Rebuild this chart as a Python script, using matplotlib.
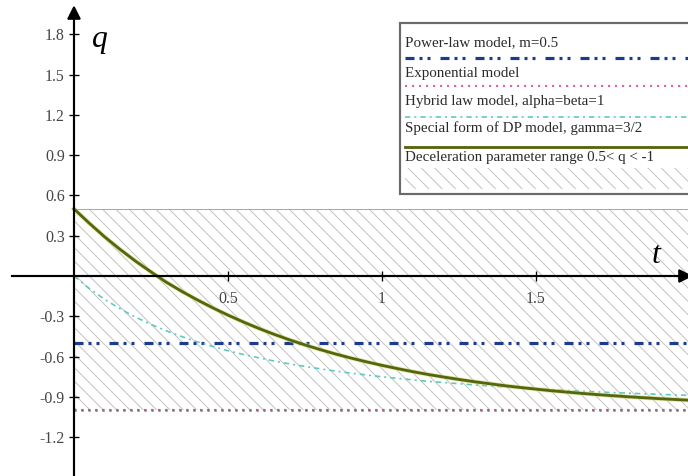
import matplotlib

matplotlib.use("Agg")
import matplotlib.pyplot as plt
from matplotlib.patches import Rectangle

# Deceleration parameter q(t) for several cosmological models.
t_grid = [0.00, 0.05, 0.10, 0.15, 0.20, 0.25, 0.30, 0.35, 0.40, 0.45, 0.50,
          0.55, 0.60, 0.65, 0.70, 0.75, 0.80, 0.85, 0.90, 0.95, 1.00,
          1.05, 1.10, 1.15, 1.20, 1.25, 1.30, 1.35, 1.40, 1.45, 1.50,
          1.55, 1.60, 1.65, 1.70, 1.75, 1.80, 1.85, 1.90, 1.95, 2.00]
q_special_dp = [0.500, 0.393, 0.291, 0.198, 0.111, 0.031, -0.046, -0.114, -0.177, -0.236, -0.291,
                -0.342, -0.390, -0.434, -0.475, -0.513, -0.548, -0.581, -0.611, -0.639, -0.665,
                -0.689, -0.712, -0.733, -0.752, -0.770, -0.787, -0.802, -0.817, -0.830, -0.842,
                -0.854, -0.864, -0.874, -0.883, -0.891, -0.899, -0.906, -0.913, -0.919, -0.925]
q_hybrid = [0.000, -0.093, -0.174, -0.244, -0.306, -0.360, -0.408, -0.451, -0.490, -0.524, -0.556,
            -0.584, -0.609, -0.633, -0.654, -0.673, -0.691, -0.708, -0.723, -0.737, -0.750,
            -0.762, -0.773, -0.784, -0.793, -0.802, -0.811, -0.819, -0.826, -0.833, -0.840,
            -0.846, -0.852, -0.858, -0.863, -0.868, -0.872, -0.877, -0.881, -0.885, -0.889]
q_power_law = -0.5
q_exponential = -1.0
q_range = (-1.0, 0.5)

y_ticks = [-1.2, -0.9, -0.6, -0.3, 0.3, 0.6, 0.9, 1.2, 1.5, 1.8]
x_ticks = [0.5, 1.0, 1.5]
x_tick_labels = ["0.5", "1", "1.5"]

legend_labels = [
    "Power-law model, m=0.5",
    "Exponential model",
    "Hybrid law model, alpha=beta=1",
    "Special form of DP model, gamma=3/2",
    "Deceleration parameter range 0.5< q < -1",
]

DPI = 120
SERIF = ["Liberation Serif", "DejaVu Serif"]

plt.rcParams["lines.scale_dashes"] = False
plt.rcParams["hatch.linewidth"] = 0.6
plt.rcParams["font.family"] = SERIF

BLUE = "#1d3b8c"
PINK = "#d46aa8"
CYAN = "#5fcac2"
OLIVE = "#56660f"
GLOW = "#d4dc78"
HATCH = "#c4c4c4"
HATCH_PATTERN = "\\\\\\"
TICK_TXT = "#444444"

power_style = dict(color=BLUE, lw=1.9, dashes=(5.4, 3.0, 1.8, 3.0, 1.8, 6.0))
exp_style = dict(color=PINK, lw=1.3, dashes=(1.3, 2.9))
hybrid_style = dict(color=CYAN, lw=1.0, dashes=(3.2, 2.4, 1.2, 2.4))
special_style = dict(color=OLIVE, lw=1.7)

fig = plt.figure(figsize=(688 / DPI, 476 / DPI), dpi=DPI)
ax = fig.add_axes([0, 0, 1, 1])
ax.set_xlim(-0.240, 1.994)
ax.set_ylim(-1.489, 2.055)
ax.patch.set_alpha(0)

t0, t1 = t_grid[0], t_grid[-1]

# shaded band of allowed q
ax.fill_between([t0, t1], q_range[0], q_range[1], facecolor="none",
                edgecolor=HATCH, hatch=HATCH_PATTERN, linewidth=0, zorder=1)
ax.plot([t0, t1], [q_range[1]] * 2, color="#a8a8a8", lw=0.6, zorder=2)

# exponential model sits on the lower edge of the band
ax.plot([t0, t1], [q_exponential] * 2, zorder=3, **exp_style)
ax.plot([t0, t1], [q_range[0]] * 2, color="#767676", lw=1.5,
        dashes=(1.3, 2.9), zorder=3)
ax.plot([t0, t1], [q_power_law] * 2, zorder=4, **power_style)
ax.plot(t_grid, q_hybrid, zorder=4, **hybrid_style)
ax.plot(t_grid, q_special_dp, color=GLOW, lw=2.7, alpha=0.6, zorder=4)
ax.plot(t_grid, q_special_dp, zorder=5, **special_style)

# axes through the origin
for side in ("top", "right"):
    ax.spines[side].set_visible(False)
ax.spines["left"].set_position(("data", 0))
ax.spines["bottom"].set_position(("data", 0))
ax.spines["left"].set_bounds(-1.489, 1.95)
ax.spines["bottom"].set_bounds(-0.2, 1.98)
for side in ("left", "bottom"):
    ax.spines[side].set_linewidth(1.3)
    ax.spines[side].set_zorder(6)
ax.plot(0, 1.955, marker="^", color="black", markersize=7, clip_on=False, zorder=7)
ax.plot(1.985, 0, marker=">", color="black", markersize=7, clip_on=False, zorder=7)

ax.set_yticks(y_ticks)
ax.set_yticklabels([f"{v:g}" for v in y_ticks])
ax.set_xticks(x_ticks)
ax.set_xticklabels(x_tick_labels)
ax.tick_params(axis="both", direction="inout", length=6, width=0.8,
               labelsize=9.5, labelcolor=TICK_TXT, colors="black")
ax.tick_params(axis="y", pad=2.5)
ax.tick_params(axis="x", pad=6)
for lab in ax.get_xticklabels() + ax.get_yticklabels():
    lab.set_zorder(8)

ax.text(0.058, 1.76, "q", fontsize=19, style="italic", ha="left", va="center")
ax.text(1.89, 0.15, "t", fontsize=19, style="italic", ha="center", va="center")

# legend panel in pixel-like units
leg = fig.add_axes([400 / 688, 1 - 194 / 476, 300 / 688, 171 / 476])
leg.set_xlim(0, 300)
leg.set_ylim(171, 0)
leg.axis("off")
leg.add_patch(Rectangle((0, 0), 300, 171, facecolor="white",
                        edgecolor="#6a6a6a", lw=1.3, clip_on=False))
text_rows = [20, 50, 78, 105, 134]
line_rows = [35, 63, 94, 124]
line_styles = [power_style, exp_style, hybrid_style, special_style]
for label, y in zip(legend_labels, text_rows):
    leg.text(5, y, label, fontsize=9, color="#2a2a2a", ha="left", va="center")
for y, style in zip(line_rows, line_styles):
    leg.plot([5, 300], [y, y], **style)
leg.add_patch(Rectangle((5, 145), 295, 21, facecolor="none", edgecolor=HATCH,
                        hatch=HATCH_PATTERN, linewidth=0))

fig.savefig("out.png", dpi=DPI)
